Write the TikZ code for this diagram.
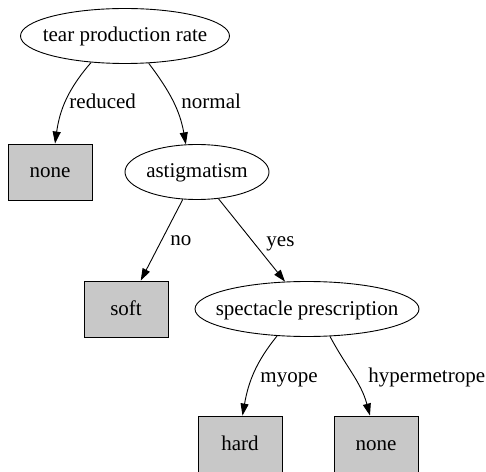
\documentclass[tikz,border=0pt]{standalone}
\usepackage{fontspec}
\setmainfont{Liberation Serif}
\usetikzlibrary{shapes.geometric,arrows.meta}
\definecolor{leafgray}{RGB}{200,200,200}
\tikzset{
  test/.style={draw, ellipse, inner sep=-40pt, minimum height=55pt, text height=15pt, text depth=3pt},
  leaf/.style={draw, fill=leafgray, inner sep=0pt, minimum width=84pt, minimum height=56pt, text height=15pt, text depth=3pt},
  lbl/.style={anchor=base west, inner sep=0pt},
  branch/.style={-{Triangle[length=12pt,width=8pt]}},
}

\begin{document}
\begin{tikzpicture}[x=1pt, y=1pt, line width=0.9pt, font=\rmfamily\fontsize{21}{25}\selectfont]
\useasboundingbox (0,0) rectangle (486,471);

\node [test, minimum width=209pt] (tear) at (125,435) {tear production rate};
\node [leaf] (none1) at (50,299) {none};
\node [test, minimum width=144pt] (astig) at (197,299) {astigmatism};
\node [leaf] (soft) at (126,162) {soft};
\node [test, minimum width=224pt] (spec) at (307,162) {spectacle prescription};
\node [leaf] (hard) at (240,27) {hard};
\node [leaf] (none2) at (376,27) {none};

\draw [branch] (tear.218) to [out=229, in=82] (none1.80);
\draw [branch] (tear.-49) to [out=-53, in=100] (astig.112);
\draw [branch] (astig) -- (soft);
\draw [branch] (astig) -- (spec);
\draw [branch] (spec.222) to [out=231, in=80] (hard.85);
\draw [branch] (spec.-50) to [out=-62, in=105] (none2.102);

\node [lbl] (reduced) at (69,362) {reduced};
\node [lbl] (normal) at (181,362) {normal};
\node [lbl] (no) at (170,225) {no};
\node [lbl] (yes) at (266,224) {yes};
\node [lbl] (myope) at (260,89) {myope};
\node [lbl] (hyper) at (368,89) {hypermetrope};
\end{tikzpicture}
\end{document}
